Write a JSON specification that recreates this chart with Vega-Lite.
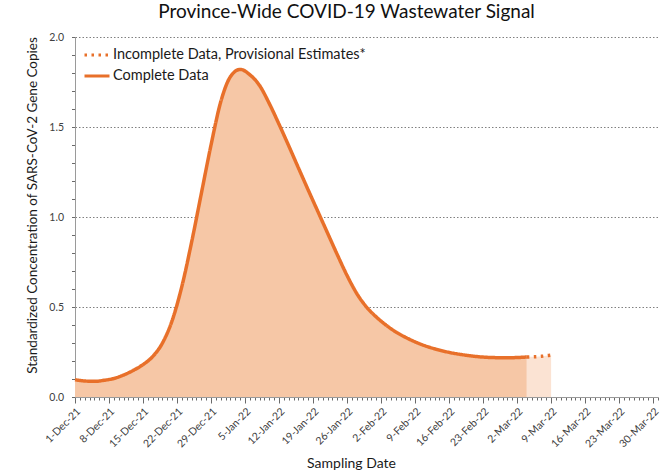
{
  "$schema": "https://vega.github.io/schema/vega-lite/v6.json",
  "width": 583,
  "height": 360,
  "autosize": {"type": "none"},
  "padding": {"left": 75, "top": 37, "right": 14, "bottom": 75},
  "background": "white",
  "config": {
    "font": "Lato",
    "view": {"stroke": null},
    "axis": {"labelFont": "Lato", "titleFont": "Lato", "labelColor": "#404040", "titleColor": "#1a1a1a", "titleFontWeight": "normal", "domainColor": "#9a9a9a", "tickColor": "#6a6a6a"}
  },
  "title": {"text": "Province-Wide COVID-19 Wastewater Signal", "fontSize": 19, "font": "Lato", "fontWeight": "normal", "color": "#111111", "anchor": "middle", "dx": -20, "offset": 10},
  "data": {
    "values": [
      {"date": "2021-12-01", "value": 0.096, "status": "Complete Data"},
      {"date": "2021-12-03", "value": 0.089, "status": "Complete Data"},
      {"date": "2021-12-05", "value": 0.087, "status": "Complete Data"},
      {"date": "2021-12-07", "value": 0.093, "status": "Complete Data"},
      {"date": "2021-12-09", "value": 0.103, "status": "Complete Data"},
      {"date": "2021-12-11", "value": 0.122, "status": "Complete Data"},
      {"date": "2021-12-13", "value": 0.148, "status": "Complete Data"},
      {"date": "2021-12-15", "value": 0.180, "status": "Complete Data"},
      {"date": "2021-12-17", "value": 0.225, "status": "Complete Data"},
      {"date": "2021-12-19", "value": 0.300, "status": "Complete Data"},
      {"date": "2021-12-21", "value": 0.425, "status": "Complete Data"},
      {"date": "2021-12-23", "value": 0.615, "status": "Complete Data"},
      {"date": "2021-12-25", "value": 0.860, "status": "Complete Data"},
      {"date": "2021-12-27", "value": 1.130, "status": "Complete Data"},
      {"date": "2021-12-29", "value": 1.400, "status": "Complete Data"},
      {"date": "2021-12-31", "value": 1.640, "status": "Complete Data"},
      {"date": "2022-01-02", "value": 1.780, "status": "Complete Data"},
      {"date": "2022-01-04", "value": 1.820, "status": "Complete Data"},
      {"date": "2022-01-06", "value": 1.790, "status": "Complete Data"},
      {"date": "2022-01-08", "value": 1.730, "status": "Complete Data"},
      {"date": "2022-01-10", "value": 1.630, "status": "Complete Data"},
      {"date": "2022-01-12", "value": 1.515, "status": "Complete Data"},
      {"date": "2022-01-14", "value": 1.395, "status": "Complete Data"},
      {"date": "2022-01-16", "value": 1.272, "status": "Complete Data"},
      {"date": "2022-01-18", "value": 1.150, "status": "Complete Data"},
      {"date": "2022-01-20", "value": 1.030, "status": "Complete Data"},
      {"date": "2022-01-22", "value": 0.910, "status": "Complete Data"},
      {"date": "2022-01-24", "value": 0.790, "status": "Complete Data"},
      {"date": "2022-01-26", "value": 0.675, "status": "Complete Data"},
      {"date": "2022-01-28", "value": 0.575, "status": "Complete Data"},
      {"date": "2022-01-30", "value": 0.500, "status": "Complete Data"},
      {"date": "2022-02-01", "value": 0.445, "status": "Complete Data"},
      {"date": "2022-02-03", "value": 0.400, "status": "Complete Data"},
      {"date": "2022-02-05", "value": 0.362, "status": "Complete Data"},
      {"date": "2022-02-07", "value": 0.332, "status": "Complete Data"},
      {"date": "2022-02-10", "value": 0.295, "status": "Complete Data"},
      {"date": "2022-02-13", "value": 0.268, "status": "Complete Data"},
      {"date": "2022-02-16", "value": 0.248, "status": "Complete Data"},
      {"date": "2022-02-19", "value": 0.234, "status": "Complete Data"},
      {"date": "2022-02-22", "value": 0.224, "status": "Complete Data"},
      {"date": "2022-02-25", "value": 0.219, "status": "Complete Data"},
      {"date": "2022-02-28", "value": 0.218, "status": "Complete Data"},
      {"date": "2022-03-04", "value": 0.222, "status": "Complete Data"},
      {"date": "2022-03-04", "value": 0.222, "status": "Incomplete Data, Provisional Estimates*"},
      {"date": "2022-03-05", "value": 0.223, "status": "Incomplete Data, Provisional Estimates*"},
      {"date": "2022-03-06", "value": 0.224, "status": "Incomplete Data, Provisional Estimates*"},
      {"date": "2022-03-07", "value": 0.226, "status": "Incomplete Data, Provisional Estimates*"},
      {"date": "2022-03-08", "value": 0.229, "status": "Incomplete Data, Provisional Estimates*"},
      {"date": "2022-03-09", "value": 0.232, "status": "Incomplete Data, Provisional Estimates*"}
    ]
  },
  "encoding": {
    "x": {
      "field": "date",
      "type": "temporal",
      "title": "Sampling Date",
      "scale": {"type": "utc", "nice": false, "domain": [{"year": 2021, "month": 12, "date": 1, "utc": true}, {"year": 2022, "month": 3, "date": 31, "utc": true}]},
      "axis": {
        "tickCount": {"interval": "day", "step": 1},
        "labelExpr": "(datum.value - 1638316800000) % 604800000 == 0 ? utcFormat(datum.value, '%-d-%b-%y') : ''",
        "labelAngle": -45,
        "labelOverlap": false,
        "labelBound": false,
        "labelFlush": false,
        "labelFontSize": 10.5,
        "labelPadding": 3,
        "tickSize": {"condition": {"test": "(datum.value - 1638316800000) % 604800000 == 0", "value": 6}, "value": 3},
        "grid": false,
        "zindex": 1,
        "titleFontSize": 14,
        "titlePadding": 7,
        "titleX": 276
      }
    },
    "y": {
      "field": "value",
      "type": "quantitative",
      "title": "Standardized Concentration of SARS-CoV-2 Gene Copies",
      "scale": {"domain": [0, 2], "nice": false},
      "axis": {
        "values": [0, 0.1, 0.2, 0.3, 0.4, 0.5, 0.6, 0.7, 0.8, 0.9, 1.0, 1.1, 1.2, 1.3, 1.4, 1.5, 1.6, 1.7, 1.8, 1.9, 2.0],
        "labelExpr": "abs(datum.value * 2 - round(datum.value * 2)) < 0.001 ? format(datum.value, '.1f') : ''",
        "labelFontSize": 10.5,
        "labelPadding": 8,
        "tickSize": 3.5,
        "labelOverlap": false,
        "grid": true,
        "gridColor": {"condition": {"test": "abs(datum.value * 2 - round(datum.value * 2)) < 0.001 && datum.value > 0", "value": "#808080"}, "value": "transparent"},
        "gridDash": [1.5, 2],
        "gridWidth": 1,
        "titleFontSize": 13.5,
        "titlePadding": 9,
        "titleY": 168
      }
    }
  },
  "layer": [
    {
      "transform": [{"filter": "datum.status == 'Complete Data'"}],
      "mark": {"type": "area", "interpolate": "monotone", "color": "#F6C7A6"}
    },
    {
      "transform": [{"filter": "datum.status != 'Complete Data'"}],
      "mark": {"type": "area", "interpolate": "monotone", "color": "#FBE3D3"}
    },
    {
      "mark": {"type": "line", "interpolate": "monotone", "color": "#E8702A", "strokeWidth": 3.5},
      "encoding": {
        "strokeDash": {
          "field": "status",
          "type": "nominal",
          "scale": {"domain": ["Incomplete Data, Provisional Estimates*", "Complete Data"], "range": [[2.5, 4.5], [1, 0]]},
          "legend": {
            "title": null,
            "orient": "none",
            "legendX": 8,
            "legendY": 4,
            "padding": 0,
            "symbolType": "stroke",
            "symbolSize": 625,
            "symbolStrokeWidth": 3,
            "symbolStrokeColor": "#E8702A",
            "labelFont": "Lato",
            "labelFontSize": 14.5,
            "labelColor": "#1a1a1a",
            "labelOffset": 2,
            "labelLimit": 0,
            "rowPadding": -5
          }
        }
      }
    }
  ]
}
